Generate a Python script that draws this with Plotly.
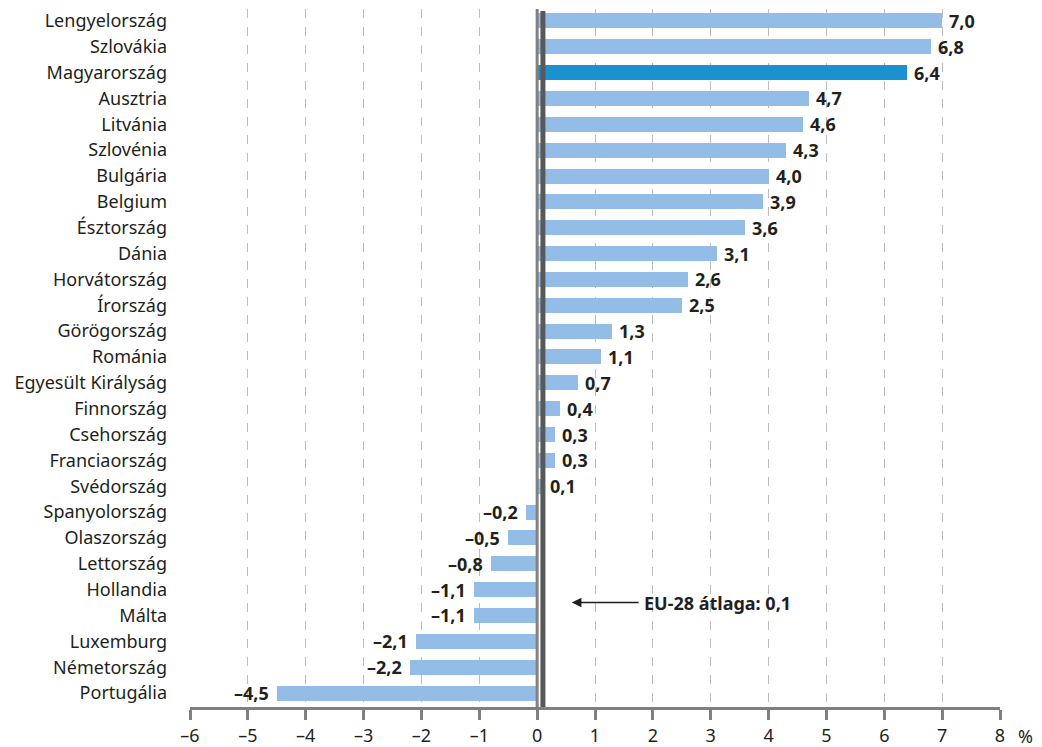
import plotly.graph_objects as go

countries = ["Lengyelország", "Szlovákia", "Magyarország", "Ausztria", "Litvánia", "Szlovénia",
             "Bulgária", "Belgium", "Észtország", "Dánia", "Horvátország", "Írország",
             "Görögország", "Románia", "Egyesült Királyság", "Finnország", "Csehország",
             "Franciaország", "Svédország", "Spanyolország", "Olaszország", "Lettország",
             "Hollandia", "Málta", "Luxemburg", "Németország", "Portugália"]
values = [7.0, 6.8, 6.4, 4.7, 4.6, 4.3, 4.0, 3.9, 3.6, 3.1, 2.6, 2.5, 1.3, 1.1, 0.7, 0.4,
          0.3, 0.3, 0.1, -0.2, -0.5, -0.8, -1.1, -1.1, -2.1, -2.2, -4.5]
highlight = "Magyarország"
eu_avg = 0.1
eu_label = "EU-28 átlaga: 0,1"
x_ticks = [-6, -5, -4, -3, -2, -1, 0, 1, 2, 3, 4, 5, 6, 7, 8]

def fmt(v):
    s = f"{abs(v):.1f}".replace(".", ",")
    return ("–" + s) if v < 0 else s

colors = ["#1C91D0" if c == highlight else "#93BDE6" for c in countries]
dark = "#231F20"
font = "Noto Sans"

fig = go.Figure()
fig.add_trace(go.Bar(x=values, y=countries, orientation="h", marker=dict(color=colors, line=dict(width=0)),
                     width=0.58, hoverinfo="skip"))

annotations = []
for c, v in zip(countries, values):
    annotations.append(dict(x=v, y=c, xref="x", yref="y", text=f"<b>{fmt(v)}</b>", showarrow=False,
                            xanchor="left" if v >= 0 else "right", xshift=5 if v >= 0 else -6,
                            font=dict(family=font, size=18, color=dark)))
# EU average annotation
annotations.append(dict(x=0.6, y=22.5, xref="x", yref="y", ax=1.78, ay=22.5, axref="x", ayref="y",
                        text="", showarrow=True, arrowhead=2, arrowsize=1.2, arrowwidth=1.6, arrowcolor=dark))
annotations.append(dict(x=1.82, y=22.5, xref="x", yref="y", text=f"<b>{eu_label}</b>", showarrow=False,
                        xanchor="left", font=dict(family=font, size=18, color=dark)))
annotations.append(dict(x=1.0, y=0, xref="paper", yref="paper", text="%", showarrow=False,
                        xanchor="left", yanchor="top", xshift=16, yshift=-15,
                        font=dict(family=font, size=18, color=dark)))

shapes = [
    dict(type="line", x0=0, x1=0, y0=0, y1=1, xref="x", yref="paper", line=dict(color="#808080", width=3)),
    dict(type="line", x0=eu_avg, x1=eu_avg, y0=0, y1=0.997, xref="x", yref="paper",
         line=dict(color="#58595B", width=5)),
]

fig.update_layout(
    width=1034, height=739, margin=dict(l=182, r=42, t=0, b=39),
    plot_bgcolor="white", paper_bgcolor="white", showlegend=False, bargap=0,
    annotations=annotations, shapes=shapes,
    font=dict(family=font, size=18, color=dark),
    xaxis=dict(range=[-6, 8], tickvals=x_ticks, ticktext=[("–" + str(abs(t))) if t < 0 else str(t) for t in x_ticks],
               showgrid=True, gridcolor="#BDBDBD", griddash="dash", gridwidth=1, zeroline=False,
               showline=True, linecolor="#808080", linewidth=3, ticks="outside", ticklen=10, tickwidth=3,
               tickcolor="#808080", tickfont=dict(family=font, size=18, color=dark)),
    yaxis=dict(type="category", categoryorder="array", categoryarray=countries, range=[26.54, -0.46],
               showgrid=False, zeroline=False, showline=False, ticks="", ticklabelstandoff=22,
               tickfont=dict(family=font, size=18, color=dark)),
)
fig.write_html("out.html")
